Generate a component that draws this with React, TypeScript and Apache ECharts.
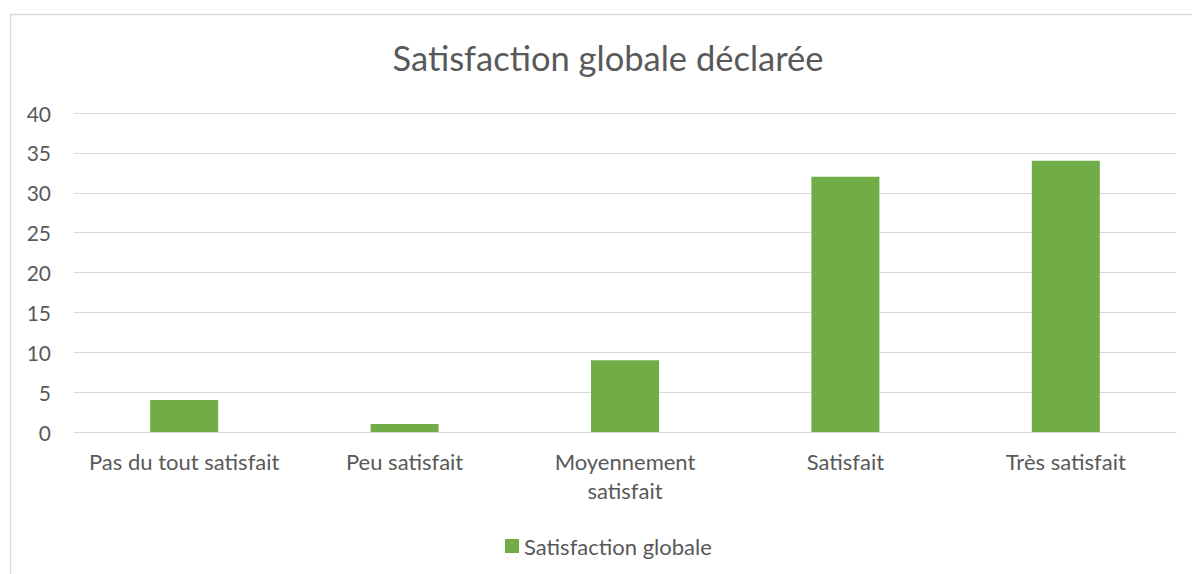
import React, { useEffect, useRef } from "react";
import * as echarts from "echarts";

const categories = ["Pas du tout satisfait", "Peu satisfait", "Moyennement\nsatisfait", "Satisfait", "Très satisfait"];
const values = [4, 1, 9, 32, 34];
const seriesName = "Satisfaction globale";
const titleText = "Satisfaction globale déclarée";

const FONT = "Lato, 'Open Sans', sans-serif";
const TEXT = "#595959";

export default function App() {
  const ref = useRef<HTMLDivElement>(null);
  useEffect(() => {
    document.body.style.margin = "0";
    const chart = echarts.init(ref.current!, null, { renderer: "svg" });
    chart.setOption({
      animation: false,
      textStyle: { fontFamily: FONT, color: TEXT },
      title: {
        text: titleText,
        left: 603,
        top: 35,
        textAlign: "center",
        textStyle: { fontFamily: FONT, fontSize: 34.5, fontWeight: "normal", color: TEXT },
      },
      graphic: [
        {
          type: "rect",
          shape: { x: 10.5, y: 14.5, width: 1300, height: 700 },
          style: { fill: "none", stroke: "#d9d9d9", lineWidth: 1.5 },
          silent: true,
        },
      ],
      grid: { left: 74, right: 16, top: 113, bottom: 142 },
      legend: {
        data: [seriesName],
        left: 500,
        top: 530,
        itemWidth: 14,
        itemHeight: 14,
        itemGap: 6,
        icon: "rect",
        textStyle: { fontFamily: FONT, fontSize: 22, color: TEXT },
      },
      xAxis: {
        type: "category",
        data: categories,
        axisLine: { lineStyle: { color: "#d9d9d9", width: 1 } },
        axisTick: { show: false },
        axisLabel: { fontFamily: FONT, fontSize: 22, color: TEXT, margin: 15, lineHeight: 29, interval: 0 },
      },
      yAxis: {
        type: "value",
        min: 0,
        max: 40,
        interval: 5,
        axisLine: { show: false },
        axisTick: { show: false },
        splitLine: { lineStyle: { color: "#d9d9d9", width: 1 } },
        axisLabel: { fontFamily: FONT, fontSize: 21, color: TEXT, margin: 23 },
      },
      series: [
        {
          name: seriesName,
          type: "bar",
          data: values,
          barWidth: 68,
          itemStyle: { color: "#70ad47" },
        },
      ],
    });
    return () => chart.dispose();
  }, []);
  return <div ref={ref} style={{ width: 1192, height: 574 }} />;
}
